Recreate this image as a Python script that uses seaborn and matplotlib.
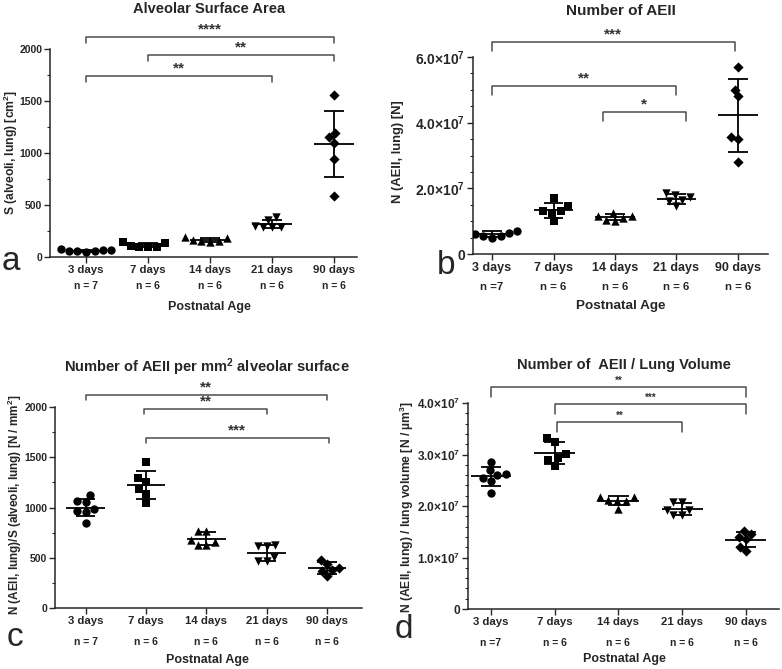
import numpy as np
import pandas as pd
import matplotlib
matplotlib.use("Agg")
import matplotlib.pyplot as plt
from matplotlib.ticker import MultipleLocator, FuncFormatter
import seaborn as sns

# ages, group sizes and markers (GraphPad style)
ages = ["3 days", "7 days", "14 days", "21 days", "90 days"]
markers = ["o", "s", "^", "v", "D"]

# a: alveolar surface area [cm2]
surf_3d = [75, 65, 55, 50, 55, 60, 70]
surf_7d = [130, 95, 100, 100, 105, 145]
surf_14d = [180, 150, 140, 155, 165, 190]
surf_21d = [360, 290, 290, 380, 290, 300]
surf_90d = [1560, 1190, 1150, 1100, 940, 590]

# b: number of AEII (x 1e7)
aeii_3d = [0.70, 0.65, 0.55, 0.50, 0.55, 0.60, 0.70]
aeii_7d = [1.70, 1.25, 1.00, 1.30, 1.45, 1.30]
aeii_14d = [1.15, 1.05, 1.00, 1.25, 1.10, 1.15]
aeii_21d = [1.65, 1.85, 1.45, 1.75, 1.80, 1.60]
aeii_90d = [5.70, 4.80, 5.00, 3.55, 3.50, 2.80]

# c: AEII per mm2 alveolar surface
dens_3d = [1120, 960, 850, 1050, 970, 990, 1060]
dens_7d = [1450, 1290, 1250, 1180, 1130, 1040]
dens_14d = [770, 770, 660, 630, 630, 680]
dens_21d = [625, 620, 620, 510, 465, 465]
dens_90d = [480, 370, 440, 400, 320, 375]

# d: AEII / lung volume (x 1e7)
vol_3d = [2.63, 2.69, 2.54, 2.85, 2.49, 2.60, 2.25]
vol_7d = [3.24, 3.33, 2.93, 3.01, 2.89, 2.78]
vol_14d = [2.10, 2.17, 1.94, 2.17, 2.12, 2.10]
vol_21d = [1.93, 2.08, 1.83, 2.08, 1.83, 1.93]
vol_90d = [1.51, 1.40, 1.13, 1.21, 1.35, 1.45]

n_a = ["n = 7", "n = 6", "n = 6", "n = 6", "n = 6"]
n_b = ["n =7", "n = 6", "n = 6", "n = 6", "n = 6"]

# brackets: (from, to, height, label)
br_a = [(0, 4, 2115, "****"), (1, 4, 1940, "**"), (0, 3, 1740, "**")]
br_b = [(0, 3.95, 6.46e7, "***"), (0, 3.0, 5.12e7, "**"), (1.8, 3.15, 4.33e7, "*")]
br_c = [(0, 4, 2120, "**"), (0.97, 3, 1980, "**"), (1, 4.03, 1690, "***")]
br_d = [(0, 4, 4.32e7, "**"), (1, 4, 3.99e7, "***"), (1.03, 3, 3.64e7, "**")]


def make_df(groups, scale=1.0):
    rows = []
    for age, vals in zip(ages, groups):
        for v in vals:
            rows.append({"age": age, "val": v * scale})
    return pd.DataFrame(rows)


df_a = make_df([surf_3d, surf_7d, surf_14d, surf_21d, surf_90d])
df_b = make_df([aeii_3d, aeii_7d, aeii_14d, aeii_21d, aeii_90d], 1e7)
df_c = make_df([dens_3d, dens_7d, dens_14d, dens_21d, dens_90d])
df_d = make_df([vol_3d, vol_7d, vol_14d, vol_21d, vol_90d], 1e7)

sns.set_style("ticks")
plt.rcParams["font.family"] = ["Liberation Sans", "DejaVu Sans"]
plt.rcParams["font.weight"] = "bold"
plt.rcParams["mathtext.fontset"] = "custom"
plt.rcParams["mathtext.rm"] = "Liberation Sans:bold"
plt.rcParams["mathtext.bf"] = "Liberation Sans:bold"
plt.rcParams["mathtext.default"] = "bf"

W, H = 782, 669
fig = plt.figure(figsize=(W / 100, H / 100), dpi=100)


def px_axes(x0, top, x1, bot):
    return fig.add_axes([x0 / W, 1 - bot / H, (x1 - x0) / W, (bot - top) / H])


def sci(v, pos):
    if v == 0:
        return "0"
    return "%.1f×10$^{7}$" % (v / 1e7)


def panel(ax, df, xlim, ymax, major, minor, brackets, drop_px, star_fs,
          nlabels, n_off, sci_fmt=False, xfs=8.2, yfs=7.5, nfs=7.5):
    for age, m in zip(ages, markers):
        sub = df[df["age"] == age]
        sns.swarmplot(data=sub, x="age", y="val", order=ages, marker=m,
                      color="black", size=6 if m != "D" else 5.2,
                      linewidth=0, ax=ax, warn_thresh=1)
    stats = df.groupby("age", sort=False)["val"].agg(["mean", "std"])
    for i, age in enumerate(ages):
        mu, sd = stats.loc[age, "mean"], stats.loc[age, "std"]
        ax.hlines(mu, i - 0.32, i + 0.32, color="black", lw=1.3, zorder=3)
        ax.hlines([mu - sd, mu + sd], i - 0.16, i + 0.16, color="black",
                  lw=1.3, zorder=3)
        ax.vlines(i, mu - sd, mu + sd, color="black", lw=1.3, zorder=3)
    ax.set_xlim(*xlim)
    ax.set_ylim(0, ymax)
    ax.yaxis.set_major_locator(MultipleLocator(major))
    ax.yaxis.set_minor_locator(MultipleLocator(minor))
    if sci_fmt:
        ax.yaxis.set_major_formatter(FuncFormatter(sci))
    ax.set_xticks(range(5))
    ax.set_xticklabels(ages, fontsize=xfs, fontweight="bold")
    for lab in ax.get_yticklabels():
        lab.set_fontsize(yfs)
        lab.set_fontweight("bold")
    ax.tick_params(axis="both", which="major", length=4, width=1, pad=1.5)
    ax.tick_params(axis="y", which="minor", length=2.5, width=0.8)
    ax.set_xlabel("")
    ax.set_ylabel("")
    sns.despine(ax=ax)
    for s in ("left", "bottom"):
        ax.spines[s].set_linewidth(1.1)
    # significance brackets
    pix = ymax / ax.bbox.height
    for x0, x1, yb, lab in brackets:
        dy = drop_px * pix
        ax.plot([x0, x0, x1, x1], [yb - dy, yb, yb, yb - dy], color="#4d4d4d",
                lw=1.1, clip_on=False)
        ax.text((x0 + x1) / 2, yb + 0.5 * pix, lab, ha="center", va="bottom",
                fontsize=star_fs, color="#333333", clip_on=False)
    for i, lab in enumerate(nlabels):
        ax.annotate(lab, xy=(i, 0), xycoords=("data", "axes fraction"),
                    xytext=(0, -n_off), textcoords="offset points",
                    ha="center", va="center", fontsize=nfs, fontweight="bold")


ax_a = px_axes(50, 49, 357, 257)
panel(ax_a, df_a, (-0.58, 4.37), 2000, 500, 250, br_a, 6, 11, n_a, 21)

ax_b = px_axes(473, 57, 768, 254)
panel(ax_b, df_b, (-0.31, 4.49), 6e7, 2e7, 0.5e7, br_b, 9, 11, n_b, 24,
      sci_fmt=True, xfs=9, yfs=10, nfs=8.2)

ax_c = px_axes(55, 407, 362, 608)
panel(ax_c, df_c, (-0.51, 4.58), 2000, 500, 250, br_c, 5, 11, n_a, 24.5)

ax_d = px_axes(468, 403, 779, 609)
panel(ax_d, df_d, (-0.36, 4.52), 4e7, 1e7, 0.2e7, br_d, 10, 7, n_b, 24.5,
      sci_fmt=True, yfs=8.6)


def ftext(x, y, s, **kw):
    fig.text(x / W, 1 - y / H, s, **kw)


# titles
ftext(209, 9, "Alveolar Surface Area", ha="center", va="center", fontsize=10.5, fontweight="bold")
ftext(621, 11, "Number of AEII", ha="center", va="center", fontsize=11, fontweight="bold")
ftext(207, 367, "Number of AEII per mm$^{2}$ alveolar surface", ha="center", va="center", fontsize=10.5, fontweight="bold")
ftext(624, 365, "Number of  AEII / Lung Volume", ha="center", va="center", fontsize=10.5, fontweight="bold")

# axis labels
ftext(11, 152, "S (alveoli, lung) [cm$^{2}$]", rotation=90, ha="center", va="center", fontsize=8.7, fontweight="bold")
ftext(398, 152, "N (AEII, lung) [N]", rotation=90, ha="center", va="center", fontsize=9.4, fontweight="bold")
ftext(15, 505, "N (AEII, lung)/S (alveoli, lung) [N / mm$^{2}$]", rotation=90, ha="center", va="center", fontsize=8.5, fontweight="bold")
ftext(407, 507, "N (AEII, lung) / lung volume [N / µm$^{3}$]", rotation=90, ha="center", va="center", fontsize=8.7, fontweight="bold")
for x, y, fs in [(209, 307, 9), (621, 306, 9.7), (207, 660, 9), (624, 659, 9)]:
    ftext(x, y, "Postnatal Age", ha="center", va="center", fontsize=fs, fontweight="bold")

# panel letters
for x, y, s in [(11, 262, "a"), (446, 266, "b"), (15, 638, "c"), (404, 630, "d")]:
    ftext(x, y, s, ha="center", va="center", fontsize=24, fontweight="normal")

fig.savefig("out.png", dpi=100)
